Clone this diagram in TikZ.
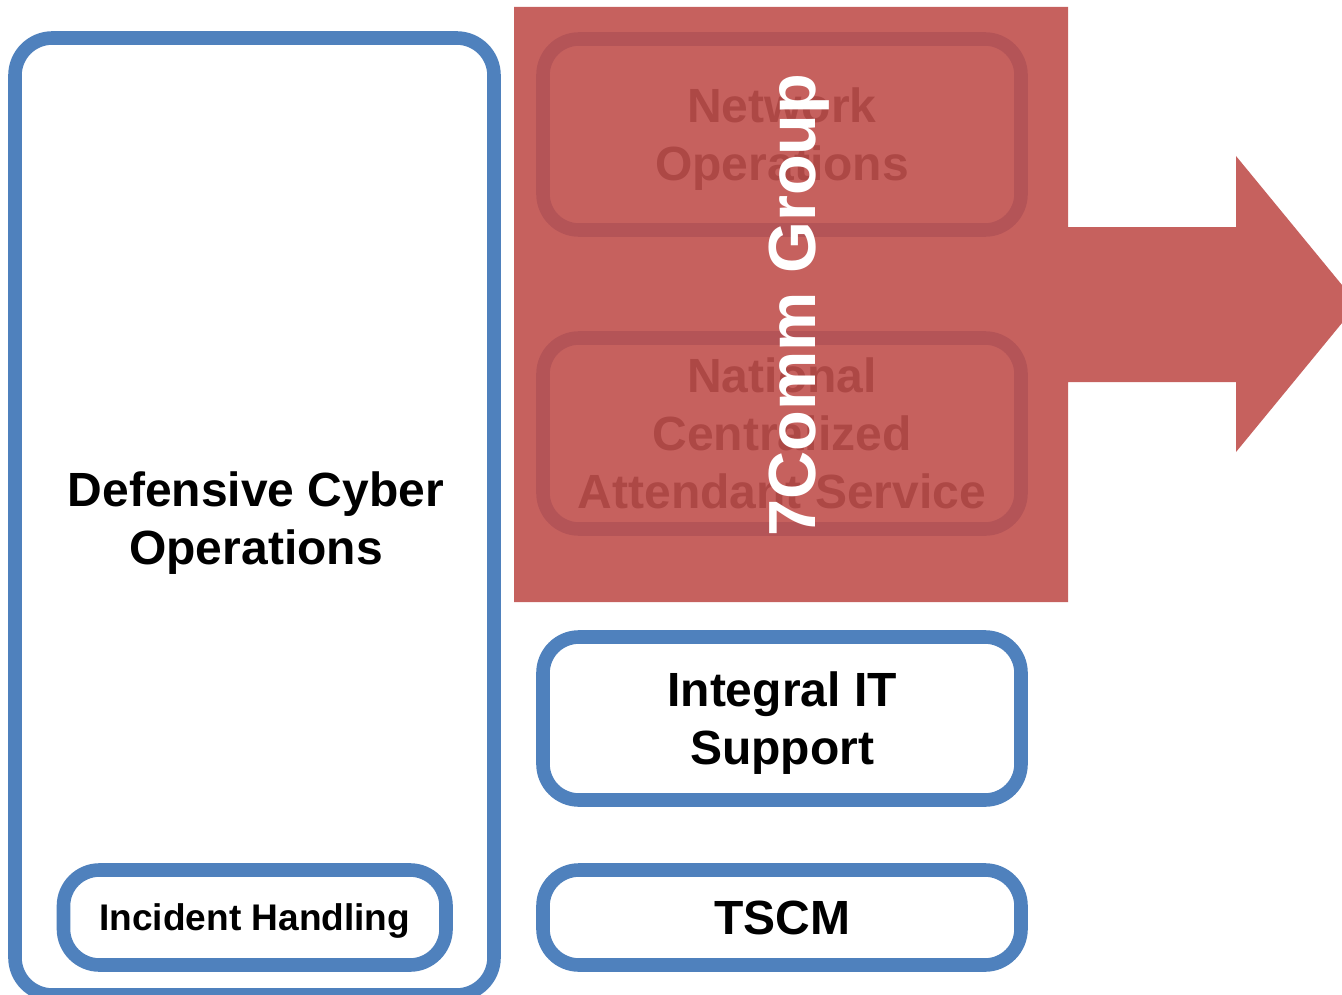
\documentclass[tikz,border=0pt]{standalone}
\usepackage{fontspec}
\setmainfont{Liberation Sans}
\definecolor{boxblue}{HTML}{4F81BD}
\definecolor{accred}{HTML}{C0504D}
\newcommand{\ppstrut}{\rule[-0.212em]{0pt}{1.117em}}
\begin{document}
\begin{tikzpicture}[x=0.75pt,y=-0.75pt,
  bbox/.style={draw=boxblue, line width=10.2pt, rounded corners=27pt, fill=white,
    align=center, inner sep=0pt, font=\bfseries\fontsize{36}{43.5}\selectfont},
  lbl/.style={align=center, inner sep=0pt, font=\bfseries\fontsize{36}{43}\selectfont},
]
\useasboundingbox (0,0) rectangle (1342,995);
% left column
\node[bbox, rounded corners=28pt, minimum width=359.25pt, minimum height=717.75pt] (dco) at (254.5,516.5) {};
\node[lbl] (dcolbl) at (256,519) {\ppstrut Defensive Cyber\\Operations\ppstrut};
\node[bbox, minimum width=286.9pt, minimum height=71.25pt, font=\bfseries\fontsize{27.8}{33}\selectfont] (ih) at (254.75,917.5) {\ppstrut Incident Handling};
% right column
\node[bbox, minimum width=358.5pt, minimum height=143.25pt] (netops) at (782,134.5) {\ppstrut Network\\Operations\ppstrut};
\node[bbox, minimum width=358.5pt, minimum height=143.25pt] (ncas) at (782,433.5) {\ppstrut National\\Centralized\\Attendant Service\ppstrut};
\node[bbox, minimum width=358.5pt, minimum height=122.25pt] (iit) at (782,718.5) {\ppstrut Integral IT\\Support\ppstrut};
\node[bbox, minimum width=358.5pt, minimum height=71.25pt] (tscm) at (782,917.5) {\ppstrut TSCM};
% red group with arrow
\fill[accred, fill opacity=0.9] (514,7) -- (1068,7) -- (1068,227) -- (1236,227) -- (1236,156)
  -- (1357.6,304) -- (1236,452) -- (1236,382) -- (1068,382) -- (1068,602) -- (514,602) -- cycle;
\node[rotate=90, text=white, inner sep=0pt, font=\bfseries\fontsize{50}{60}\selectfont] (grp) at (799,305) {7Comm Group};
\end{tikzpicture}
\end{document}
